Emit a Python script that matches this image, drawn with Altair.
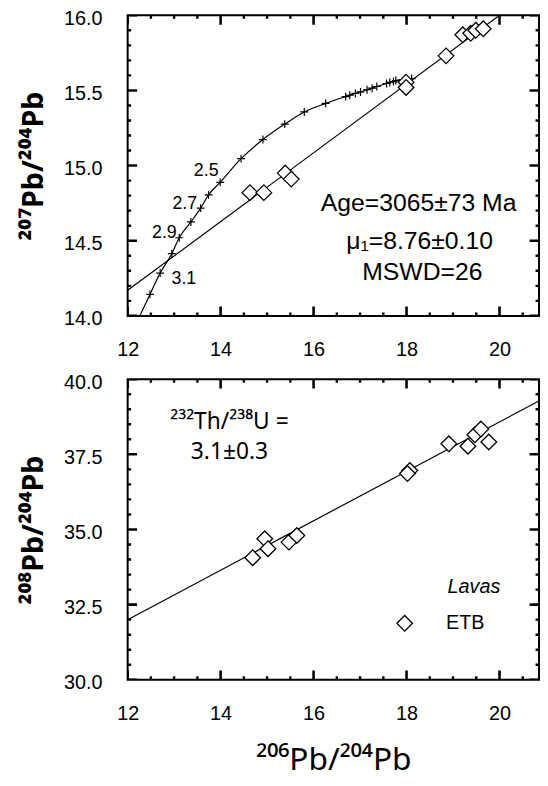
import altair as alt
import pandas as pd

FONT = "Liberation Sans"
SUPFONT = "Noto Sans"

# ---------------- data ----------------
# Upper panel (207Pb/204Pb vs 206Pb/204Pb), ETB lavas
top_206 = [14.63, 14.93, 15.39, 15.52, 17.99, 17.99, 18.85, 19.21, 19.38, 19.49, 19.65]
top_207 = [14.82, 14.82, 14.95, 14.91, 15.555, 15.52, 15.73, 15.87, 15.88, 15.90, 15.91]

# Pb growth curve (crosses); first vertex is only the line's start below the axis
curve_206 = [12.20, 12.48, 12.70, 12.95, 13.11, 13.36, 13.57, 13.74, 13.99, 14.44, 14.91,
             15.38, 15.80, 16.26, 16.69, 16.78, 16.90, 17.01, 17.15, 17.26, 17.36, 17.57,
             17.64, 17.72, 17.77, 18.11]
curve_207 = [13.96, 14.143, 14.285, 14.414, 14.52, 14.625, 14.717, 14.805, 14.888, 15.046,
             15.173, 15.276, 15.357, 15.414, 15.459, 15.468, 15.48, 15.49, 15.505, 15.515,
             15.526, 15.546, 15.553, 15.559, 15.566, 15.579]
curve_cross = [False] + [True] * 25

curve_labels = ["2.5", "2.7", "2.9", "3.1"]
curve_lab_x = [13.69, 13.23, 12.79, 13.21]
curve_lab_y = [14.964, 14.745, 14.549, 14.247]

# isochron line (upper)
iso_206 = [12.0, 20.0]
iso_207 = [14.17, 16.0]

stats_text = ["Age=3065±73 Ma", "μ₁=8.76±0.10", "MSWD=26"]
stats_x = [18.26, 18.28, 18.34]
stats_y = [14.75, 14.50, 14.29]

# Lower panel (208Pb/204Pb vs 206Pb/204Pb)
bot_206 = [14.69, 14.95, 15.02, 15.47, 15.64, 18.07, 18.02, 18.91, 19.32, 19.47, 19.60, 19.77]
bot_208 = [34.06, 34.69, 34.36, 34.58, 34.80, 36.96, 36.86, 37.85, 37.77, 38.15, 38.34, 37.91]

th_206 = [12.0, 21.0]
th_208 = [32.0, 39.4]

th_text = ["²³²Th/²³⁸U =", "3.1±0.3"]
th_x = [14.19, 14.19]
th_y = [38.56, 37.57]

legend_title = ["Lavas"]
legend_label = ["ETB"]

# axis ticks
x_major = [12, 14, 16, 18, 20]
x_minor = [12.5, 13, 13.5, 14.5, 15, 15.5, 16.5, 17, 17.5, 18.5, 19, 19.5, 20.5]
y_top_major = [14.0, 14.5, 15.0, 15.5, 16.0]
y_top_minor = [14.1, 14.2, 14.3, 14.4, 14.6, 14.7, 14.8, 14.9, 15.1, 15.2, 15.3, 15.4,
               15.6, 15.7, 15.8, 15.9]
y_bot_major = [30.0, 32.5, 35.0, 37.5, 40.0]
y_bot_minor = [30.5, 31.0, 31.5, 32.0, 33.0, 33.5, 34.0, 34.5, 35.5, 36.0, 36.5, 37.0,
               38.0, 38.5, 39.0, 39.5]

X_DOMAIN = [12, 20.85]
W = 416
H_TOP = 304
H_BOT = 304

# inward tick glyphs (path symbols anchored on the frame)
SHAPE_UP = "M0,0L0,-1"
SHAPE_DOWN = "M0,0L0,1"
SHAPE_RIGHT = "M0,0L1,0"
SHAPE_LEFT = "M0,0L-1,0"
SIZE_MAJ = 361   # ~9.5 px long
SIZE_MIN = 49    # ~3.5 px long

xsc = alt.Scale(domain=X_DOMAIN)


def tick_layers(xs, ys, size, sw, ydom, yscale):
    x0, x1 = X_DOMAIN
    y0, y1 = ydom
    specs = [
        (pd.DataFrame({"x": xs, "y": [y0] * len(xs)}), SHAPE_UP),
        (pd.DataFrame({"x": xs, "y": [y1] * len(xs)}), SHAPE_DOWN),
        (pd.DataFrame({"x": [x0] * len(ys), "y": ys}), SHAPE_RIGHT),
        (pd.DataFrame({"x": [x1] * len(ys), "y": ys}), SHAPE_LEFT),
    ]
    lay = []
    for d, shp in specs:
        lay.append(alt.Chart(d).mark_point(shape=shp, size=size, stroke="#000000",
                                           strokeWidth=sw, filled=False,
                                           opacity=1, strokeOpacity=1,
                                           clip=True).encode(
            x=alt.X("x:Q", scale=xsc), y=alt.Y("y:Q", scale=yscale)))
    return lay


# ---------------- upper panel ----------------
ydom_top = [14.0, 16.0]
ysc_top = alt.Scale(domain=ydom_top)

x_axis_top = alt.Axis(values=x_major, format="d", title=None, labelFlush=False)
y_axis_top = alt.Axis(values=y_top_major, format=".1f", title="²⁰⁷Pb/²⁰⁴Pb",
                      titleFont=SUPFONT, titleFontWeight="bold", titleFontSize=29,
                      titlePadding=15, labelFlush=False, labelOffset=3)

iso_df = pd.DataFrame({"x": iso_206, "y": iso_207})
iso = alt.Chart(iso_df).mark_line(color="black", strokeWidth=1.2, clip=True).encode(
    x=alt.X("x:Q", scale=xsc, axis=x_axis_top),
    y=alt.Y("y:Q", scale=ysc_top, axis=y_axis_top))

curve_df = pd.DataFrame({"x": curve_206, "y": curve_207, "cross": curve_cross})
curve = alt.Chart(curve_df).mark_line(color="black", strokeWidth=1.2, clip=True,
                                      interpolate="monotone").encode(
    x=alt.X("x:Q", scale=xsc), y=alt.Y("y:Q", scale=ysc_top), order="x:Q")
crosses = alt.Chart(curve_df).transform_filter("datum.cross").mark_point(
    shape="M-1,0L1,0M0,-1L0,1", size=64, stroke="black", strokeWidth=1.2,
    filled=False, opacity=1, clip=True).encode(
    x=alt.X("x:Q", scale=xsc), y=alt.Y("y:Q", scale=ysc_top))

top_df = pd.DataFrame({"x": top_206, "y": top_207})
dia_top = alt.Chart(top_df).mark_point(shape="diamond", size=250, filled=True,
                                       fill="white", stroke="black", strokeWidth=1.3,
                                       opacity=1).encode(
    x=alt.X("x:Q", scale=xsc), y=alt.Y("y:Q", scale=ysc_top))

clab_df = pd.DataFrame({"t": curve_labels, "x": curve_lab_x, "y": curve_lab_y})
clab = alt.Chart(clab_df).mark_text(font=FONT, fontSize=18, color="black").encode(
    x=alt.X("x:Q", scale=xsc), y=alt.Y("y:Q", scale=ysc_top), text="t:N")

st_df = pd.DataFrame({"t": stats_text, "x": stats_x, "y": stats_y})
stats = alt.Chart(st_df).mark_text(font=FONT, fontSize=25, color="black").encode(
    x=alt.X("x:Q", scale=xsc), y=alt.Y("y:Q", scale=ysc_top), text="t:N")

top_layers = [iso, curve, crosses, dia_top, clab, stats]
top_layers += tick_layers(x_major, y_top_major, SIZE_MAJ, 2.6, ydom_top, ysc_top)
top_layers += tick_layers(x_minor, y_top_minor, SIZE_MIN, 2.4, ydom_top, ysc_top)
top = alt.layer(*top_layers).properties(width=W, height=H_TOP)

# ---------------- lower panel ----------------
ydom_bot = [30.0, 40.0]
ysc_bot = alt.Scale(domain=ydom_bot)
x_axis_bot = alt.Axis(values=x_major, format="d", title="²⁰⁶Pb/²⁰⁴Pb",
                      titleFont=SUPFONT, titleFontSize=32, titleFontWeight="normal",
                      titlePadding=22, labelFlush=False)
y_axis_bot = alt.Axis(values=y_bot_major, format=".1f", title="²⁰⁸Pb/²⁰⁴Pb",
                      titleFont=SUPFONT, titleFontWeight="bold", titleFontSize=29,
                      titlePadding=15, labelFlush=False, labelOffset=3)

th_df = pd.DataFrame({"x": th_206, "y": th_208})
thline = alt.Chart(th_df).mark_line(color="black", strokeWidth=1.2, clip=True).encode(
    x=alt.X("x:Q", scale=xsc, axis=x_axis_bot),
    y=alt.Y("y:Q", scale=ysc_bot, axis=y_axis_bot))

bot_df = pd.DataFrame({"x": bot_206, "y": bot_208})
dia_bot = alt.Chart(bot_df).mark_point(shape="diamond", size=250, filled=True,
                                       fill="white", stroke="black", strokeWidth=1.3,
                                       opacity=1).encode(
    x=alt.X("x:Q", scale=xsc), y=alt.Y("y:Q", scale=ysc_bot))

tht_df = pd.DataFrame({"t": th_text, "x": th_x, "y": th_y})
tht = alt.Chart(tht_df).mark_text(font=SUPFONT, fontSize=23, color="black").encode(
    x=alt.X("x:Q", scale=xsc), y=alt.Y("y:Q", scale=ysc_bot), text="t:N")

lt_df = pd.DataFrame({"t": legend_title, "x": [19.45], "y": [33.10]})
ltitle = alt.Chart(lt_df).mark_text(font=FONT, fontSize=20, fontStyle="italic",
                                    color="black").encode(
    x=alt.X("x:Q", scale=xsc), y=alt.Y("y:Q", scale=ysc_bot), text="t:N")
ll_df = pd.DataFrame({"t": legend_label, "x": [18.85], "y": [31.88], "sx": [17.96]})
llabel = alt.Chart(ll_df).mark_text(font=FONT, fontSize=20, align="left",
                                    color="black").encode(
    x=alt.X("x:Q", scale=xsc), y=alt.Y("y:Q", scale=ysc_bot), text="t:N")
lsym = alt.Chart(ll_df).mark_point(shape="diamond", size=250, filled=True, fill="white",
                                   stroke="black", strokeWidth=1.3, opacity=1).encode(
    x=alt.X("sx:Q", scale=xsc), y=alt.Y("y:Q", scale=ysc_bot))

bot_layers = [thline, dia_bot, tht, ltitle, llabel, lsym]
bot_layers += tick_layers(x_major, y_bot_major, SIZE_MAJ, 2.6, ydom_bot, ysc_bot)
bot_layers += tick_layers(x_minor, y_bot_minor, SIZE_MIN, 2.4, ydom_bot, ysc_bot)
bottom = alt.layer(*bot_layers).properties(width=W, height=H_BOT)

chart = alt.vconcat(top, bottom, spacing=11).properties(
    padding={"left": 11, "top": -5, "right": 0, "bottom": 0}
).configure_view(stroke="black", strokeWidth=2).configure_axis(
    ticks=False, domain=False, grid=False, labelFont=FONT, titleFont=FONT,
    labelFontSize=20, labelColor="black", titleColor="black", labelPadding=26
).configure_axisX(labelPadding=24)

chart.save("out.html", embed_options={"renderer": "svg", "actions": False})
